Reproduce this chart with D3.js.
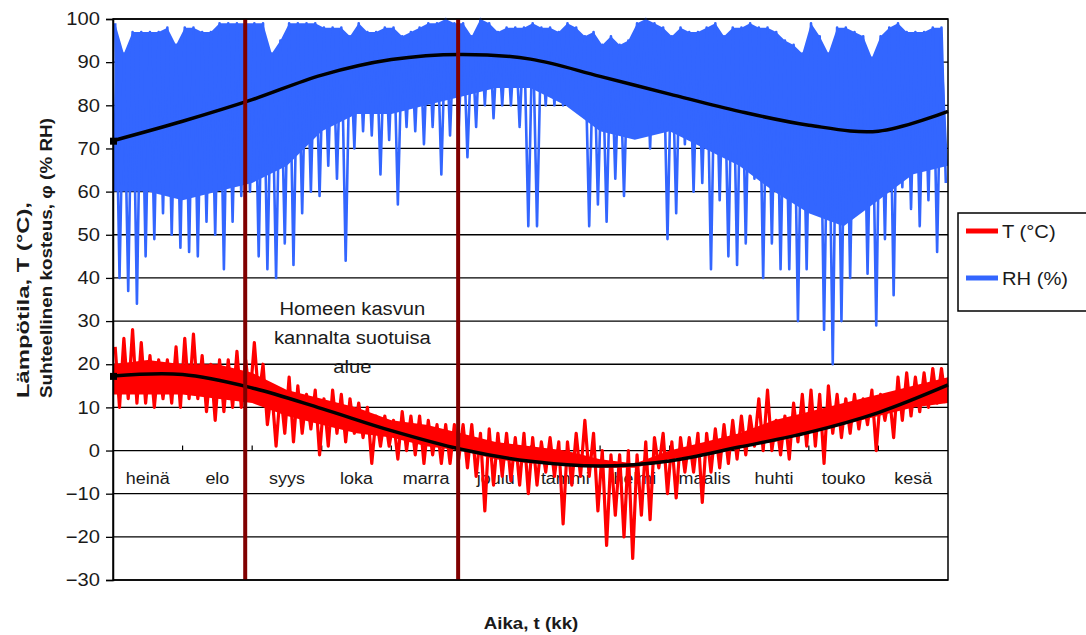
<!DOCTYPE html>
<html>
<head>
<meta charset="utf-8">
<script src="https://cdn.jsdelivr.net/npm/d3@7"></script>
<style>
  body { margin: 0; background: #fff; }
  svg { display: block; font-family: "Liberation Sans", Arial, sans-serif; }
</style>
</head>
<body>
<div id="chart"></div>
<script>
// Kuukaudet (heinäkuusta kesäkuuhun)
const months = ["heinä", "elo", "syys", "loka", "marra", "joulu", "tammi", "helmi", "maalis", "huhti", "touko", "kesä"];
const yTicks = [-30, -20, -10, 0, 10, 20, 30, 40, 50, 60, 70, 80, 90, 100];

// RH (%) vaihteluväli, 1/8 kk jaksoissa
const rhMax = [99,92,97,97,97,97,98,94,98,98,97,97,99,99,99,99,99,99,92,95,99,99,99,99,
               98,98,98,96,99,97,97,98,98,96,97,98,99,99,100,99,99,96,100,99,97,98,98,98,
               99,98,98,97,99,98,96,97,94,96,94,95,99,100,99,98,96,98,97,97,98,99,96,98,
               98,99,98,98,97,95,94,92,99,96,92,98,98,97,96,91,96,98,99,97,97,97,98,98];
const rhMin = [40,37,34,45,49,55,50,47,46,45,53,50,42,53,59,60,45,42,40,48,43,55,60,59,
               66,63,44,70,74,73,64,72,57,75,74,71,75,64,73,75,68,75,80,77,80,80,75,52,
               52,80,80,80,80,78,52,57,53,63,59,75,78,70,75,49,55,71,60,62,42,58,45,43,
               48,63,40,48,42,42,30,42,57,28,20,30,40,58,41,29,49,36,61,56,52,58,46,62];
// tiheän RH-vyöhykkeen alareuna, 1/2 kk välein
const rhCore = [60, 60, 58, 60, 62, 66, 74, 78, 78, 80, 82, 84, 84, 80, 74, 72, 74, 70, 66, 60, 55, 52, 58, 64, 66];

// T (°C) vaihteluväli, 1/8 kk jaksoissa
const tMax = [24,26,28,25,22,21,21,24,26,27,22,20,21,21,23,21,25,20,14,14,17,15,13,14,
              12,14,13,12,11,10,8,8,7,9,8,8,7,6,6,6,6,6,4,5,4,4,3,4,
              3,2,3,2,2,4,7,4,0,-1,-1,0,-1,2,3,4,2,3,3,4,4,5,6,7,
              8,8,12,14,7,8,11,13,14,13,15,13,12,13,12,14,13,13,17,18,17,18,19,19];
const tMin = [10,12,11,11,10,12,11,10,12,12,9,7,9,10,10,12,12,6,1,4,2,4,5,-1,
              1,4,2,4,3,-3,1,1,-2,0,-1,-3,-1,-3,-3,-2,-4,-6,-14,-8,-6,-7,-8,-10,
              -8,-5,-6,-17,-8,-6,-6,-14,-22,-15,-20,-25,-15,-16,-4,-10,-11,-5,-5,-12,-5,-4,-3,-2,
              -1,1,0,0,-1,-2,2,1,1,-3,4,3,4,5,6,0,7,3,7,8,9,10,11,11];
// tiheän T-vyöhykkeen reunat, 1/2 kk välein
const tCoreHi = [20, 21, 20, 20, 18, 14, 12, 10, 7, 6, 4, 2, 1, 0, -2, -3, 0, 2, 4, 7, 9, 11, 13, 15, 17];
const tCoreLo = [13, 13, 13, 12, 11, 8, 6, 4, 3, 1, 0, -2, -3, -3, -4, -4, -2, -1, 1, 2, 4, 6, 8, 10, 11];

// Tasoitetut käyrät kuukauden rajoilla
const rhTrend = [71.8, 76.3, 81.3, 87.0, 90.6, 91.8, 90.7, 86.7, 82.6, 78.6, 75.4, 74.0, 78.6];
const tTrend = [17.3, 17.6, 14.5, 9.7, 4.6, 0.3, -2.5, -3.6, -2.4, 0.8, 4.2, 8.8, 15.2];

// Homeen kasvulle suotuisan alueen rajat (kk)
const zoneMarks = [1.9, 4.96];
const zoneText = ["Homeen kasvun", "kannalta suotuisa", "alue"];
const yTitle = ["Lämpötila, T (°C),", "Suhteellinen kosteus, φ (% RH)"];

const width = 1086, height = 635;
const plot = { left: 113, right: 948, top: 19, bottom: 580 };

const svg = d3.select("#chart").append("svg")
    .attr("width", width)
    .attr("height", height);

const x = d3.scaleLinear().domain([0, 12]).range([plot.left, plot.right]);
const y = d3.scaleLinear().domain([-30, 100]).range([plot.bottom, plot.top]);
const binW = 12 / rhMax.length;

function stretch(sel, k) {
    sel.each(function() {
        const w = this.getComputedTextLength();
        d3.select(this).attr("textLength", w * k).attr("lengthAdjust", "spacingAndGlyphs");
    });
}

// each bin: up to its max, down to its min
function zigzag(hi, lo) {
    const pts = [];
    hi.forEach((v, i) => {
        pts.push([i * binW + binW * 0.25, v]);
        pts.push([i * binW + binW * 0.75, lo[i]]);
    });
    return pts;
}

// gridlines
svg.append("g")
    .selectAll("line")
    .data(yTicks)
    .join("line")
    .attr("x1", plot.left)
    .attr("x2", plot.right)
    .attr("y1", d => y(d))
    .attr("y2", d => y(d))
    .attr("stroke", "#000")
    .attr("stroke-width", 1.3);

// month labels inside the plot
const monthLabels = svg.append("g")
    .selectAll("text")
    .data(months)
    .join("text")
    .attr("x", (d, i) => x(i + 0.5))
    .attr("y", y(-7.7))
    .attr("text-anchor", "middle")
    .style("font-size", "16px")
    .attr("fill", "#1a1a1a")
    .text(d => d);
stretch(monthLabels, 1.12);

// month tick marks on the zero line
svg.append("g")
    .selectAll("line")
    .data(d3.range(1, 12))
    .join("line")
    .attr("x1", d => x(d))
    .attr("x2", d => x(d))
    .attr("y1", y(0))
    .attr("y2", y(0) - 5)
    .attr("stroke", "#000")
    .attr("stroke-width", 1.2);

const bandLine = d3.line()
    .x(d => x(d[0]))
    .y(d => y(d[1]));

// RH: dense body + spikes
const rhTop = rhMax.map((v, i) => [i * binW + binW * 0.25, v]);
const rhBottom = rhCore.map((v, i) => [i * 0.5, v]).reverse();
svg.append("path")
    .attr("d", bandLine(rhTop.concat(rhBottom)) + "Z")
    .attr("fill", "#3366ff");
svg.append("path")
    .datum(zigzag(rhMax, rhMin))
    .attr("d", bandLine)
    .attr("fill", "none")
    .attr("stroke", "#3366ff")
    .attr("stroke-width", 2.6)
    .attr("stroke-linejoin", "round");

// T: dense body + spikes
const tArea = d3.area()
    .x((d, i) => x(i * 0.5))
    .y0((d, i) => y(tCoreLo[i]))
    .y1(d => y(d));
svg.append("path")
    .datum(tCoreHi)
    .attr("d", tArea)
    .attr("fill", "#ff0000");
svg.append("path")
    .datum(zigzag(tMax, tMin))
    .attr("d", bandLine)
    .attr("fill", "none")
    .attr("stroke", "#ff0000")
    .attr("stroke-width", 3.2)
    .attr("stroke-linejoin", "round");

// smoothed trend curves
const trendLine = d3.line()
    .x((d, i) => x(i))
    .y(d => y(d))
    .curve(d3.curveCatmullRom);
[rhTrend, tTrend].forEach(series => {
    svg.append("path")
        .datum(series)
        .attr("d", trendLine)
        .attr("fill", "none")
        .attr("stroke", "#000")
        .attr("stroke-width", 3.5);
    svg.append("rect")
        .attr("x", x(0) - 3)
        .attr("y", y(series[0]) - 3)
        .attr("width", 7)
        .attr("height", 7)
        .attr("fill", "#000");
});

// annotation
const note = svg.append("g")
    .selectAll("text")
    .data(zoneText)
    .join("text")
    .attr("x", x(3.44))
    .attr("y", (d, i) => y(31.3) + i * 29)
    .attr("text-anchor", "middle")
    .style("font-size", "18px")
    .attr("fill", "#1a1a1a")
    .text(d => d);
stretch(note, 1.12);

// zone boundaries
svg.append("g")
    .selectAll("line")
    .data(zoneMarks)
    .join("line")
    .attr("x1", d => x(d))
    .attr("x2", d => x(d))
    .attr("y1", plot.top)
    .attr("y2", plot.bottom)
    .attr("stroke", "#800000")
    .attr("stroke-width", 4);

// plot frame
svg.append("rect")
    .attr("x", plot.left)
    .attr("y", plot.top)
    .attr("width", plot.right - plot.left)
    .attr("height", plot.bottom - plot.top)
    .attr("fill", "none")
    .attr("stroke", "#000")
    .attr("stroke-width", 1.5);

// y axis
const yAxis = svg.append("g")
    .attr("transform", `translate(${plot.left},0)`)
    .call(d3.axisLeft(y).tickValues(yTicks).tickSize(7).tickPadding(6));
yAxis.select(".domain").attr("stroke", "#000").attr("stroke-width", 1.5);
yAxis.selectAll(".tick line").attr("stroke", "#000").attr("stroke-width", 1.3);
yAxis.selectAll("text")
    .style("font-size", "18px")
    .style("font-family", "'Liberation Sans', Arial, sans-serif")
    .attr("fill", "#1a1a1a");
stretch(yAxis.selectAll("text"), 1.12);

// y title (two left-aligned rotated lines)
svg.append("g")
    .selectAll("text")
    .data(yTitle)
    .join("text")
    .attr("transform", (d, i) => `translate(${29 + i * 23},398) rotate(-90)`)
    .attr("text-anchor", "start")
    .attr("textLength", (d, i) => i === 0 ? 196 : 280)
    .attr("lengthAdjust", "spacingAndGlyphs")
    .style("font-size", "17px")
    .style("font-weight", "bold")
    .attr("fill", "#1a1a1a")
    .text(d => d);

// x title
const xTitle = svg.append("text")
    .attr("x", 531)
    .attr("y", 629)
    .attr("text-anchor", "middle")
    .style("font-size", "17px")
    .style("font-weight", "bold")
    .attr("fill", "#1a1a1a")
    .text("Aika, t (kk)");
stretch(xTitle, 1.1);

// legend
const legend = svg.append("g").attr("transform", "translate(958,213)");
legend.append("rect")
    .attr("width", 140)
    .attr("height", 98)
    .attr("fill", "#fff")
    .attr("stroke", "#000")
    .attr("stroke-width", 1.5);
const legendItems = [
    { label: "T (°C)", color: "#ff0000", y: 18 },
    { label: "RH (%)", color: "#3366ff", y: 65 }
];
legendItems.forEach(item => {
    legend.append("line")
        .attr("x1", 8)
        .attr("x2", 40)
        .attr("y1", item.y)
        .attr("y2", item.y)
        .attr("stroke", item.color)
        .attr("stroke-width", 5);
    const t = legend.append("text")
        .attr("x", 44)
        .attr("y", item.y + 7)
        .style("font-size", "18px")
        .attr("fill", "#1a1a1a")
        .text(item.label);
    stretch(t, 1.12);
});
</script>
</body>
</html>
